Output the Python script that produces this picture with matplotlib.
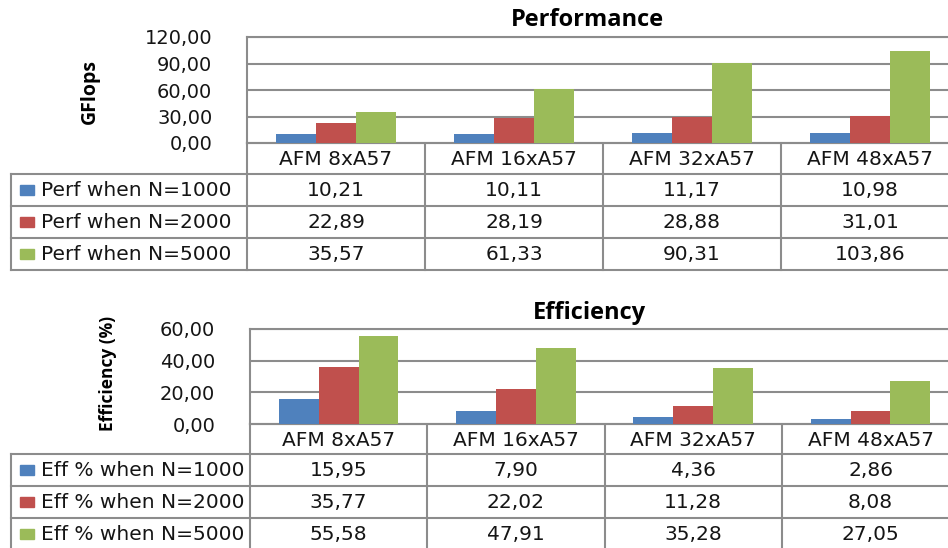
import numpy as np
import matplotlib
matplotlib.use("Agg")
import matplotlib.pyplot as plt

categories = ['AFM 8xA57', 'AFM 16xA57', 'AFM 32xA57', 'AFM 48xA57']

perf_labels = ['Perf when N=1000', 'Perf when N=2000', 'Perf when N=5000']
perf_n1000 = [10.21, 10.11, 11.17, 10.98]
perf_n2000 = [22.89, 28.19, 28.88, 31.01]
perf_n5000 = [35.57, 61.33, 90.31, 103.86]

eff_labels = ['Eff % when N=1000', 'Eff % when N=2000', 'Eff % when N=5000']
eff_n1000 = [15.95, 7.90, 4.36, 2.86]
eff_n2000 = [35.77, 22.02, 11.28, 8.08]
eff_n5000 = [55.58, 47.91, 35.28, 27.05]

colors = ['#4F81BD', '#C0504D', '#9BBB59']
grid_c = '#8C8C8C'
txt_c = '#151515'
W, H = 948, 548

fig = plt.figure(figsize=(9.48, 5.48), dpi=100)
fig.patch.set_facecolor('white')

# overlay in pixel coordinates for the data tables
ov = fig.add_axes([0, 0, 1, 1])
ov.set_xlim(0, W)
ov.set_ylim(H, 0)
ov.axis('off')


def fmt(v):
    return f'{v:.2f}'.replace('.', ',')


def chart(series, labels, title, ylabel, ymax, ystep,
          left, col_w, top, zero, rows, lab_xy, title_y, lab_size):
    # bar area
    x_right = left + 4 * col_w
    ax = fig.add_axes([left / W, 1 - zero / H, (x_right - left) / W, (zero - top) / H])
    ax.set_xlim(0, 4)
    ax.set_ylim(0, ymax)
    x = np.arange(len(categories)) + 0.5
    bw = 0.225
    for i, s in enumerate(series):
        ax.bar(x + (i - 1) * bw, s, bw, color=colors[i], zorder=3)
    ticks = np.arange(0, ymax + ystep / 2, ystep)
    ax.set_yticks(ticks)
    ax.set_yticklabels([fmt(t) for t in ticks], fontsize=14, color=txt_c)
    ax.yaxis.grid(True, color=grid_c, linewidth=1.5, zorder=0)
    ax.tick_params(axis='y', length=0, pad=25)
    ax.set_xticks([])
    for sp in ax.spines.values():
        sp.set_color(grid_c)
        sp.set_linewidth(1.5)
    ov.text(lab_xy[0], lab_xy[1], ylabel, fontsize=lab_size, fontweight='bold',
            family='Open Sans', rotation=90, ha='center', va='center', color='black')
    ov.text(left + 340, title_y, title, fontsize=17, fontweight='bold',
            family='Open Sans', ha='center', va='center', color='black')

    # data table
    lw = 1.5
    tl = 11
    ov.plot([left, x_right], [zero, zero], color=grid_c, lw=lw)
    for r in rows:
        ov.plot([tl, x_right], [r, r], color=grid_c, lw=lw)
    bottom = rows[-1] if rows[-1] < H else H + 5
    ov.plot([tl, tl], [rows[0], bottom], color=grid_c, lw=lw)
    for k in range(4):
        xc = left + k * col_w
        ov.plot([xc, xc], [zero, bottom], color=grid_c, lw=lw)
        ov.text(xc + col_w / 2, (zero + rows[0]) / 2 + 1, categories[k],
                fontsize=14.5, ha='center', va='center', color=txt_c)
    for i, s in enumerate(series):
        yc = (rows[i] + (rows[i + 1] if i + 1 < len(rows) else rows[i] + 32)) / 2
        ov.add_patch(plt.Rectangle((20, yc - 5), 14, 10, color=colors[i]))
        ov.text(41, yc + 1, labels[i], fontsize=14.5, ha='left', va='center',
                color=txt_c)
        for k, v in enumerate(s):
            ov.text(left + k * col_w + col_w / 2, yc + 1, fmt(v), fontsize=14.5,
                    ha='center', va='center', color=txt_c)


chart([perf_n1000, perf_n2000, perf_n5000], perf_labels, 'Performance', 'GFlops',
      120, 30, 247, 178, 37, 143, [174, 206, 238, 270], (90, 91), 20, 14)
chart([eff_n1000, eff_n2000, eff_n5000], eff_labels, 'Efficiency', 'Efficiency (%)',
      60, 20, 250, 177.3, 329, 424, [454, 486, 518, 550], (108, 373), 313, 12.5)

fig.savefig('out.png', dpi=100, facecolor='white')
